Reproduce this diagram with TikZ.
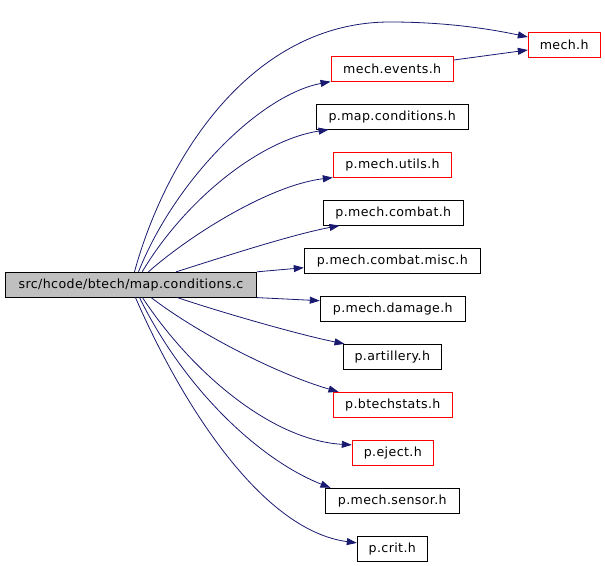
\documentclass[tikz,border=0pt]{standalone}
\usepackage{fontspec}
\setmainfont{DejaVu Sans}[LetterSpace=3]
\usetikzlibrary{arrows.meta}
\definecolor{edgecol}{HTML}{191970}
\definecolor{mainfill}{HTML}{BFBFBF}
\begin{document}
\begin{tikzpicture}[x=1pt,y=-1pt,
  box/.style={draw=black,line width=1pt,inner sep=0pt,minimum height=24.8pt,font=\fontsize{12.6}{14}\selectfont},
  redbox/.style={box,draw=red},
  dep/.style={draw=edgecol,line width=0.8pt,-{Triangle[length=10pt,width=7pt]}}]
\useasboundingbox (0,0) rectangle (605,565);
\node[box,fill=mainfill,minimum width=251.4pt] (main) at (131,284.7) {src/hcode/btech/map.conditions.c};
\node[redbox,minimum width=71.7pt] (mech) at (564.2,44.8) {mech.h};
\node[redbox,minimum width=122.3pt] (events) at (392.2,68.7) {mech.events.h};
\node[box,minimum width=152.3pt] (mapcond) at (392.2,116.7) {p.map.conditions.h};
\node[redbox,minimum width=118.4pt] (utils) at (392.5,164.7) {p.mech.utils.h};
\node[box,minimum width=140pt] (combat) at (393.3,212.7) {p.mech.combat.h};
\node[box,minimum width=176pt] (misc) at (392.3,260.7) {p.mech.combat.misc.h};
\node[box,minimum width=145pt] (damage) at (392.8,308.7) {p.mech.damage.h};
\node[box,minimum width=98pt] (art) at (392.3,356.7) {p.artillery.h};
\node[redbox,minimum width=119pt] (btech) at (392.8,404.7) {p.btechstats.h};
\node[redbox,minimum width=81pt] (eject) at (392.8,452.7) {p.eject.h};
\node[box,minimum width=134pt] (sensor) at (392.3,500.7) {p.mech.sensor.h};
\node[box,minimum width=70pt] (crit) at (392.3,548.7) {p.crit.h};
% edges
\draw[dep] ([xshift=129.7pt]main.north west) .. controls (165,160) and (250,22) .. (390,22)
   .. controls (450,22) and (495,30) .. ([yshift=7.8pt]mech.west);
\draw[dep] ([xshift=133.7pt]main.north west) .. controls (175,180) and (260,95) .. (events.south west);
\draw[dep] ([xshift=137.4pt]main.north west) .. controls (185,200) and (260,140) .. ([xshift=13pt]mapcond.south west);
\draw[dep] ([xshift=143.7pt]main.north west) .. controls (190,235) and (270,185) .. (utils.south west);
\draw[dep] ([xshift=171.4pt]main.north west) .. controls (220,258) and (290,235) .. ([xshift=16.7pt]combat.south west);
\draw[dep] (main.north east) -- ([yshift=-7pt]misc.west);
\draw[dep] (main.south east) -- ([yshift=8pt]damage.west);
\draw[dep] ([xshift=172.7pt]main.south west) .. controls (220,312) and (300,335) .. ([xshift=1.7pt]art.north west);
\draw[dep] ([xshift=146.4pt]main.south west) .. controls (200,335) and (280,375) .. ([xshift=5.7pt]btech.north west);
\draw[dep] ([xshift=137.7pt]main.south west) .. controls (190,370) and (270,440) .. ([yshift=7.8pt]eject.west);
\draw[dep] ([xshift=134.7pt]main.south west) .. controls (185,390) and (260,460) .. ([xshift=5.7pt]sensor.north west);
\draw[dep] ([xshift=130.7pt]main.south west) .. controls (180,400) and (260,530) .. ([yshift=5.8pt]crit.west);
\draw[dep] ([yshift=8.7pt]events.east) -- ([yshift=-5.2pt]mech.west);
\end{tikzpicture}
\end{document}
